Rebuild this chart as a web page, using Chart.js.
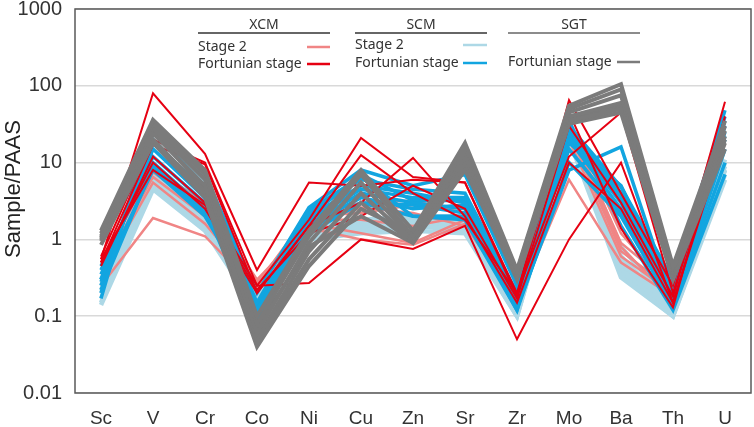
<!DOCTYPE html>
<html>
<head>
<meta charset="utf-8">
<script src="https://cdn.jsdelivr.net/npm/chart.js@4"></script>
<style>
  html, body { margin: 0; padding: 0; background: #fff; }
  #wrap { width: 754px; height: 427px; position: relative; }
</style>
</head>
<body>
<div id="wrap"><canvas id="spider"></canvas></div>
<script>
// elementos normalizados a PAAS
const elements = ['Sc', 'V', 'Cr', 'Co', 'Ni', 'Cu', 'Zn', 'Sr', 'Zr', 'Mo', 'Ba', 'Th', 'U'];
const yTicks = [0.01, 0.1, 1, 10, 100, 1000];
const yTickLabels = ['0.01', '0.1', '1', '10', '100', '1000'];

// XCM - Stage 2
const xcmStage2 = [
  [0.25, 1.9, 1.1, 0.22, 1.4, 1.0, 0.85, 1.6, 0.15, 6, 0.5, 0.18, 15],
  [0.35, 5.5, 1.6, 0.25, 1.6, 1.2, 0.9, 1.8, 0.16, 20, 0.6, 0.2, 20],
  [0.4, 6.5, 2.0, 0.28, 1.8, 1.8, 1.5, 2.0, 0.18, 25, 0.7, 0.22, 25],
  [0.3, 7.5, 2.4, 0.22, 2.0, 2.2, 2.8, 2.5, 0.2, 30, 0.9, 0.25, 30],
  [0.45, 8.5, 3.0, 0.3, 1.5, 2.6, 2.2, 1.5, 0.17, 35, 1.2, 0.2, 18],
  [0.5, 9, 2.8, 0.26, 2.2, 3.0, 3.2, 2.2, 0.22, 28, 0.8, 0.16, 22]
];
// XCM - Fortunian stage
const xcmFortunian = [
  [0.55, 80, 13, 0.4, 5.5, 5.0, 6.0, 5.5, 0.18, 65, 4, 0.25, 62],
  [0.6, 20, 10, 0.25, 1.8, 21, 6.5, 5.5, 0.2, 12, 45, 0.2, 30],
  [0.5, 17, 9.5, 0.2, 1.5, 3.0, 11.5, 2.0, 0.15, 10, 2.5, 0.15, 25],
  [0.45, 12, 3, 0.25, 0.27, 1.0, 0.75, 1.5, 0.05, 1.0, 10, 0.15, 20],
  [0.5, 10, 2.5, 0.2, 1.5, 12.5, 4, 1.8, 0.2, 45, 1.4, 0.13, 35],
  [0.55, 8, 2.8, 0.22, 1.2, 2.0, 5.0, 2.5, 0.17, 30, 3, 0.18, 40]
];
// SCM - Stage 2
const scmStage2 = [
  [0.14, 4.5, 1.3, 0.12, 1.0, 1.2, 1.3, 1.2, 0.1, 20, 0.32, 0.1, 6],
  [0.15, 5, 1.4, 0.14, 1.1, 1.3, 1.5, 1.3, 0.1, 22, 0.35, 0.1, 7],
  [0.17, 5.5, 1.5, 0.15, 1.2, 1.4, 1.6, 1.4, 0.11, 25, 0.4, 0.11, 8],
  [0.2, 6, 1.6, 0.17, 1.2, 1.5, 1.7, 1.5, 0.12, 27, 0.5, 0.12, 9],
  [0.22, 6.5, 1.8, 0.18, 1.3, 1.6, 1.8, 1.6, 0.12, 28, 0.6, 0.12, 10],
  [0.25, 7, 2.0, 0.2, 1.4, 1.7, 2.0, 1.8, 0.13, 30, 0.8, 0.13, 11],
  [0.3, 8, 2.2, 0.13, 1.5, 1.8, 2.0, 2.0, 0.14, 24, 0.45, 0.11, 8]
];
// SCM - Fortunian stage
const scmFortunian = [
  [0.17, 35, 7, 0.2, 2.6, 8, 5, 7, 0.25, 30, 4.8, 0.3, 48],
  [0.2, 30, 6, 0.15, 2.2, 6, 4.5, 4, 0.2, 28, 4, 0.25, 40],
  [0.25, 25, 5, 0.12, 2.0, 5, 4, 3, 0.18, 25, 3.5, 0.2, 35],
  [0.3, 20, 4, 0.1, 1.8, 4.5, 3.5, 3.5, 0.16, 22, 3, 0.18, 30],
  [0.35, 15, 3.5, 0.09, 1.6, 4, 3.0, 2.5, 0.14, 20, 2.5, 0.16, 25],
  [0.4, 12, 3, 0.08, 1.5, 3.5, 2.5, 2.8, 0.13, 8, 16, 0.15, 20],
  [0.45, 10, 2.5, 0.07, 1.4, 3, 2.8, 2.2, 0.12, 10, 2, 0.14, 15],
  [0.22, 9, 2.2, 0.13, 2.4, 6.5, 2.0, 2.0, 0.15, 15, 2.2, 0.13, 10],
  [0.3, 8, 2, 0.15, 1.2, 3, 2.0, 1.8, 0.12, 35, 1.5, 0.12, 7],
  [0.28, 18, 4.5, 0.11, 2.0, 7, 3.2, 3.2, 0.2, 18, 5, 0.2, 22]
];
// SGT - Fortunian stage
const sgtFortunian = [
  [1.3, 36, 8, 0.1, 1.3, 8, 1.3, 18, 0.4, 55, 105, 0.45, 35],
  [1.2, 32, 7, 0.08, 1.1, 7, 1.1, 16, 0.38, 50, 90, 0.42, 30],
  [1.1, 28, 6, 0.06, 0.9, 5.5, 1.0, 14, 0.35, 45, 75, 0.4, 26],
  [1.0, 24, 5, 0.05, 0.7, 4, 0.95, 12, 0.33, 40, 60, 0.38, 22],
  [0.95, 20, 4, 0.045, 0.55, 3, 0.9, 10, 0.32, 35, 50, 0.35, 18],
  [0.85, 18, 3.5, 0.04, 0.45, 2.5, 1.2, 9, 0.3, 32, 45, 0.3, 15],
  [1.05, 26, 4.5, 0.07, 0.8, 2.0, 0.9, 8, 0.34, 38, 55, 0.33, 20]
];

const groups = [
  { rows: scmStage2, color: '#add8e6', width: 4.5, order: 5 },
  { rows: xcmStage2, color: '#f08585', width: 2.5, order: 4 },
  { rows: scmFortunian, color: '#12a5e0', width: 3.5, order: 3 },
  { rows: xcmFortunian, color: '#e60012', width: 2, order: 2 },
  { rows: sgtFortunian, color: '#7b7b7b', width: 4, order: 1 }
];

const datasets = [];
groups.forEach(g => {
  g.rows.forEach(r => {
    datasets.push({
      data: r, borderColor: g.color, backgroundColor: g.color,
      borderWidth: g.width, pointRadius: 0, tension: 0, fill: false, order: g.order
    });
  });
});

// marco, leyenda y título del eje
const extras = {
  id: 'extras',
  afterDraw(chart) {
    const ctx = chart.ctx;
    const a = chart.chartArea;
    ctx.save();
    ctx.strokeStyle = '#5a5a5a';
    ctx.lineWidth = 1.5;
    ctx.strokeRect(a.left, a.top, a.right - a.left, a.bottom - a.top);

    // título Y
    ctx.translate(14, 189);
    ctx.rotate(-Math.PI / 2);
    ctx.fillStyle = '#222';
    ctx.font = '22px "Liberation Sans", Arial, sans-serif';
    ctx.textAlign = 'center';
    ctx.textBaseline = 'middle';
    ctx.fillText('Sample/PAAS', 0, 0);
    ctx.restore();

    ctx.save();
    ctx.font = '14px "Noto Sans", sans-serif';
    ctx.textBaseline = 'middle';
    const blocks = [
      { title: 'XCM', x0: 198, x1: 330, rows: [['Stage 2', '#f08585', 47], ['Fortunian stage', '#e60012', 64]], lx: 307, rule: '#333' },
      { title: 'SCM', x0: 355, x1: 487, rows: [['Stage 2', '#add8e6', 45], ['Fortunian stage', '#12a5e0', 63]], lx: 463, rule: '#333' },
      { title: 'SGT', x0: 508, x1: 640, rows: [['Fortunian stage', '#7b7b7b', 62]], lx: 617, rule: '#666' }
    ];
    blocks.forEach(b => {
      ctx.textAlign = 'center';
      ctx.fillStyle = '#333';
      ctx.fillText(b.title, (b.x0 + b.x1) / 2, 25);
      ctx.strokeStyle = b.rule;
      ctx.lineWidth = 1.5;
      ctx.beginPath(); ctx.moveTo(b.x0, 33); ctx.lineTo(b.x1, 33); ctx.stroke();
      b.rows.forEach(r => {
        ctx.textAlign = 'left';
        ctx.fillStyle = '#333';
        ctx.fillText(r[0], b.x0, r[2]);
        ctx.strokeStyle = r[1];
        ctx.lineWidth = 2.5;
        ctx.beginPath(); ctx.moveTo(b.lx, r[2]); ctx.lineTo(b.x1, r[2]); ctx.stroke();
      });
    });
    ctx.restore();
  }
};

new Chart(document.getElementById('spider'), {
  type: 'line',
  data: { labels: elements, datasets: datasets },
  options: {
    responsive: true, maintainAspectRatio: false, animation: false,
    layout: { padding: { top: 9, right: 3, left: 0, bottom: 0 } },
    plugins: { legend: { display: false }, tooltip: { enabled: false } },
    scales: {
      x: {
        offset: true,
        grid: { display: false, drawTicks: false },
        border: { display: false },
        ticks: { color: '#333', padding: 14, maxRotation: 0, autoSkip: false,
                 font: { family: '"Liberation Sans", Arial, sans-serif', size: 19 } },
        afterFit(scale) { scale.height = 34; scale.paddingLeft = 0; scale.paddingRight = 0; }
      },
      y: {
        type: 'logarithmic', min: 0.01, max: 1000,
        grid: { color: '#d9d9d9', lineWidth: 1.5, drawTicks: false },
        border: { display: false },
        afterBuildTicks(scale) { scale.ticks = yTicks.map(v => ({ value: v })); },
        ticks: {
          color: '#333', padding: 13,
          font: { family: '"Liberation Sans", Arial, sans-serif', size: 20 },
          callback: (v) => { const i = yTicks.indexOf(v); return i >= 0 ? yTickLabels[i] : ''; }
        },
        afterFit(scale) { scale.width = 75; scale.paddingTop = 0; scale.paddingBottom = 0; }
      }
    }
  },
  plugins: [extras]
});
</script>
</body>
</html>
